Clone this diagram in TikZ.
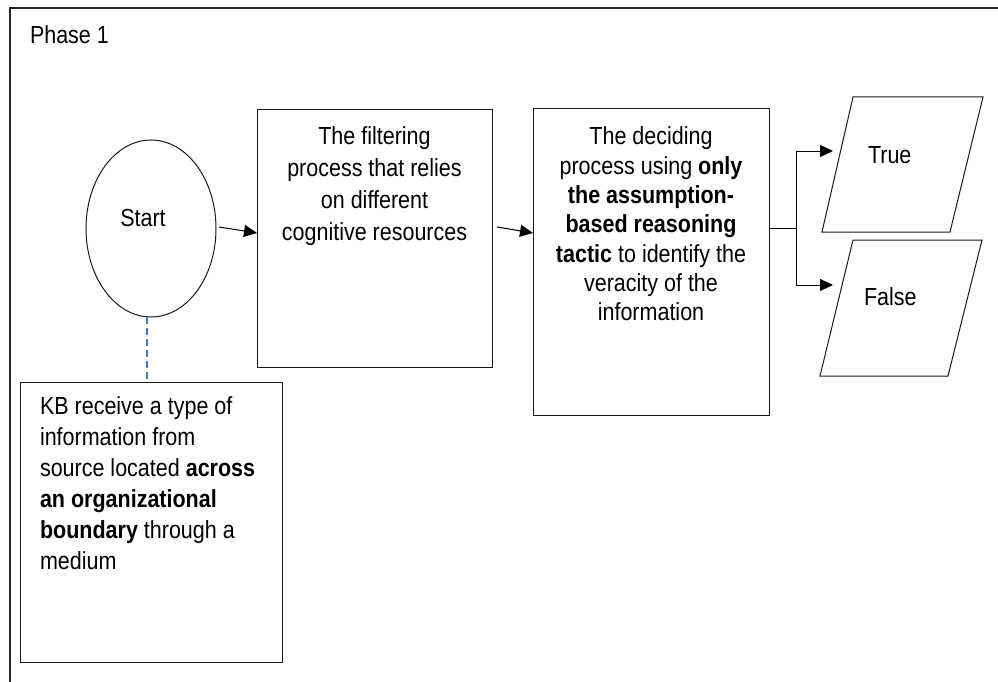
\documentclass[tikz,border=0pt]{standalone}
\usepackage{fontspec}
\usepackage{graphicx}
\setmainfont{Liberation Sans}
\usetikzlibrary{arrows.meta,shapes.geometric,calc}
\definecolor{linkblue}{RGB}{68,120,205}
% glyphs of the diagram are set slightly taller than wide
\newcommand\tallline[1]{\scalebox{1}[1.15]{#1}}

\begin{document}
\begin{tikzpicture}[x=1pt,y=-1pt,
  shape line/.style={draw=black!90, line width=1pt},
  box/.style={shape line, rectangle, inner sep=0pt, outer sep=0pt},
  txt/.style={inner sep=0pt, outer sep=0pt, font=\fontsize{21.5}{31}\selectfont},
  arr/.style={-{Triangle[length=13pt,width=12pt]}, line width=1pt},
  link/.style={line width=1pt},
  dashlink/.style={line width=1.1pt, draw=linkblue, dash pattern=on 7pt off 4pt},
]
\useasboundingbox (0,0) rectangle (998,682);

% phase frame (only its left and top edges lie within the page)
\draw[line width=2.4pt, black!85] (10,682) -- (10,8) -- (998,8);
\node[txt, anchor=base west] (phase) at (30,44) {\tallline{Phase 1}};

% start event
\node[shape line, ellipse, minimum width=130pt, minimum height=177pt, inner sep=0pt, outer sep=0pt] (start) at (151,228.5) {};
\node[txt, anchor=base] (startlbl) at (143,226) {\tallline{Start}};

% description of the incoming information
\node[box, minimum width=262pt, minimum height=280pt] (kb) at (151,522) {};
\node[txt, anchor=north west, align=left] (kbtxt) at (40,397)
  {\tallline{KB receive a type of}\\\tallline{information from}\\\tallline{source located \textbf{across}}\\\tallline{\textbf{an organizational}}\\\tallline{\textbf{boundary} through a}\\\tallline{medium}};

% filtering step
\node[box, minimum width=235pt, minimum height=257pt] (filter) at (374.5,238.5) {};
\node[txt, anchor=north, align=center, font=\fontsize{21.5}{32}\selectfont] (filtertxt) at (374.5,127)
  {\tallline{The filtering}\\\tallline{process that relies}\\\tallline{on different}\\\tallline{cognitive resources}};

% deciding step
\node[box, minimum width=236pt, minimum height=306pt] (decide) at (651,262) {};
\node[txt, anchor=north, align=center, font=\fontsize{21.5}{29.3}\selectfont] (decidetxt) at (651,127)
  {\tallline{The deciding}\\\tallline{process using \textbf{only}}\\\tallline{\textbf{the assumption-}}\\\tallline{\textbf{based reasoning}}\\\tallline{\textbf{tactic} to identify the}\\\tallline{veracity of the}\\\tallline{information}};

% outcomes
\draw[shape line] (853,97) coordinate (ttl) -- (983,97) -- (950,232) -- (822,232) -- cycle;
\node[txt, anchor=base west] (truelbl) at (868,163) {\tallline{True}};
\draw[shape line] (853,240) coordinate (ftl) -- (982,240) -- (948,376) -- (820,376) -- cycle;
\node[txt, anchor=base west] (falselbl) at (864,305) {\tallline{False}};

% connectors
\draw[dashlink] (start.south) ++(-4,0) coordinate (ds) -- (ds |- kb.north);
\draw[arr] ($(start.east)+(3,-1.5)$) -- ($(filter.west)+(0,-5.5)$);
\draw[arr] ($(filter.east)+(5,-11.5)$) -- ($(decide.west)+(0,-29)$);

\coordinate (dout) at ($(decide.east)+(0,-34)$);
\coordinate (split) at ($(dout)+(27,0)$);
\coordinate (tin) at (833,151);
\coordinate (fin) at (833,285);
\draw[link] (dout) -- (split);
\draw[link] (split |- tin) -- (split |- fin);
\draw[arr] (split |- tin) -- (tin);
\draw[arr] (split |- fin) -- (fin);
\end{tikzpicture}
\end{document}
